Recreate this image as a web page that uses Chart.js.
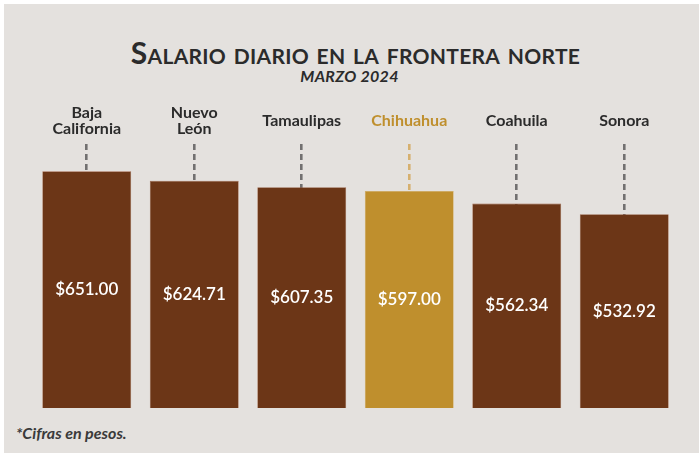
<!DOCTYPE html>
<html>
<head>
<meta charset="utf-8">
<script src="https://cdn.jsdelivr.net/npm/chart.js@4"></script>
<style>
  html, body { margin: 0; padding: 0; background: #ffffff; }
  #wrap { position: relative; width: 699px; height: 453px; overflow: hidden; }
  #panel { position: absolute; left: 4px; top: 4px; right: 0; bottom: 0; background: #e4e1de; }
  #title { position: absolute; left: 6px; width: 699px; top: 34px; text-align: center;
           font: 700 30px Lato, sans-serif; font-variant: small-caps; color: #2b2b2b; letter-spacing: 0.3px; }
  #subtitle { position: absolute; left: 0; width: 699px; top: 66px; text-align: center;
              font: italic 700 16px Lato, sans-serif; color: #2b2b2b; letter-spacing: 0.3px; }
  #note { position: absolute; left: 16px; top: 423px;
          font: italic 700 16px Lato, sans-serif; color: #3a3a3a; }
  canvas { position: absolute; left: 0; top: 0; }
</style>
</head>
<body>
<div id="wrap">
  <div id="panel"></div>
  <div id="title">Salario diario en la frontera norte</div>
  <div id="subtitle">MARZO 2024</div>
  <div id="note">*Cifras en pesos.</div>
  <canvas id="salaryChart" width="699" height="453"></canvas>
</div>
<script>
const states = [['Baja', 'California'], ['Nuevo', 'León'], 'Tamaulipas', 'Chihuahua', 'Coahuila', 'Sonora'];
const salaries = [651.00, 624.71, 607.35, 597.00, 562.34, 532.92];
const highlight = 'Chihuahua';

const brown = '#6c3617';
const gold = '#bf8f2d';
const isHi = i => states[i] === highlight;

// value text in the middle of each bar
const barValues = {
    id: 'barValues',
    afterDatasetsDraw(chart) {
        const ctx = chart.ctx;
        const meta = chart.getDatasetMeta(0);
        ctx.save();
        ctx.fillStyle = '#ffffff';
        ctx.font = '600 17px Lato, sans-serif';
        ctx.textAlign = 'center';
        ctx.textBaseline = 'middle';
        meta.data.forEach((bar, i) => {
            ctx.fillText('$' + salaries[i].toFixed(2), bar.x, (bar.y + bar.base) / 2);
        });
        ctx.restore();
    }
};

new Chart(document.getElementById('salaryChart').getContext('2d'), {
    type: 'bar',
    data: {
        labels: states,
        datasets: [{
            data: salaries,
            backgroundColor: salaries.map((v, i) => isHi(i) ? gold : brown),
            borderColor: salaries.map((v, i) => isHi(i) ? '#d2aa5e' : '#a0644a'),
            borderWidth: 0.6,
            categoryPercentage: 1,
            barPercentage: 0.827
        }]
    },
    options: {
        responsive: false,
        animation: false,
        layout: {
            padding: { left: 33, right: 21, top: 82, bottom: 45 }
        },
        plugins: {
            legend: { display: false },
            tooltip: { enabled: false }
        },
        scales: {
            x: {
                position: 'top',
                border: { display: false, dash: [6, 4] },
                grid: {
                    offset: false,
                    drawTicks: false,
                    lineWidth: 2.6,
                    color: ctx => isHi(ctx.index) ? '#d6b06e' : '#727070'
                },
                ticks: {
                    padding: 16,
                    crossAlign: 'center',
                    maxRotation: 0,
                    font: { family: 'Lato', size: 16, weight: 700, lineHeight: 0.95 },
                    color: ctx => isHi(ctx.index) ? gold : '#2b2b2b'
                }
            },
            y: {
                display: false,
                min: 0,
                max: 725
            }
        }
    },
    plugins: [barValues]
});
</script>
</body>
</html>
